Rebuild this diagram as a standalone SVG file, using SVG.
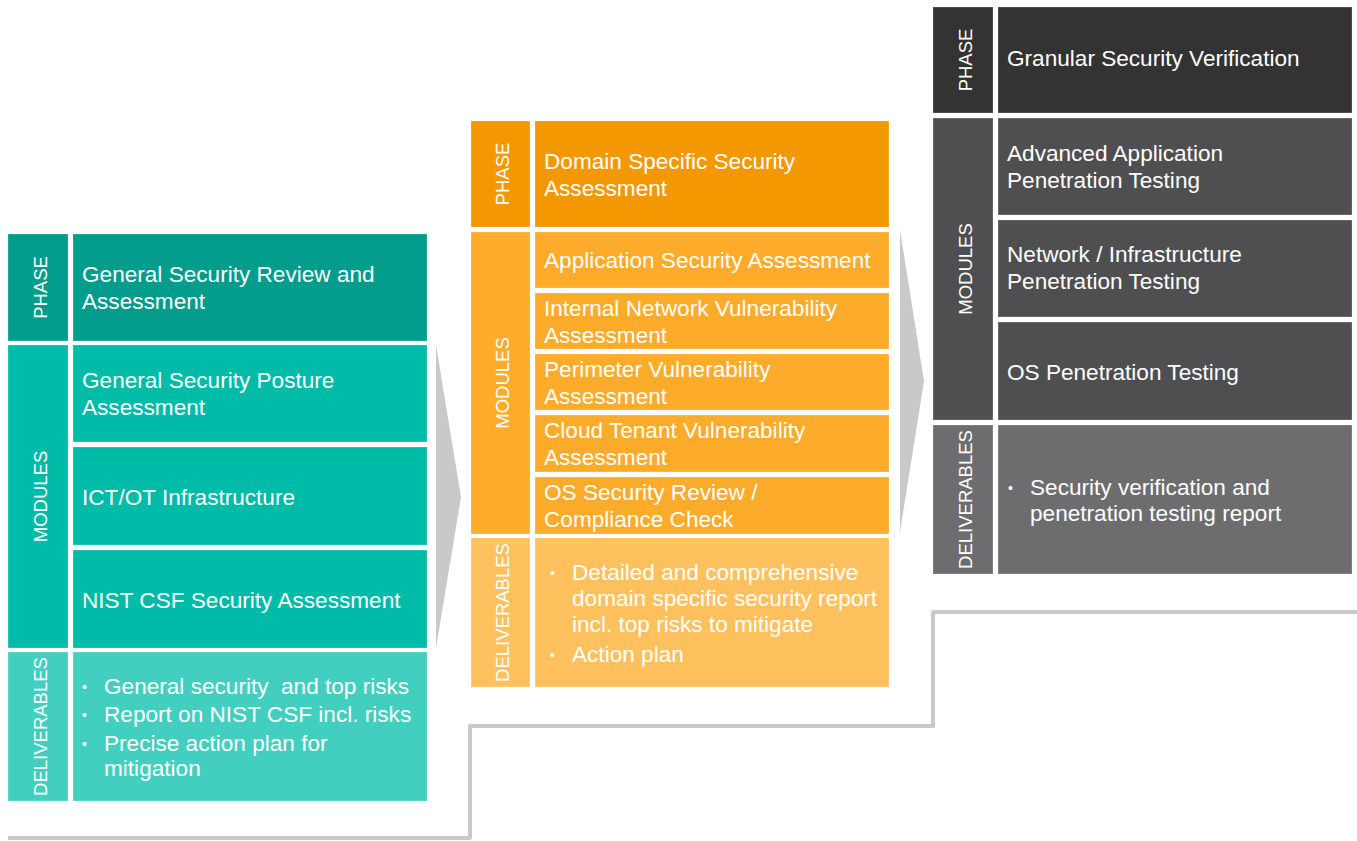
<svg xmlns="http://www.w3.org/2000/svg" width="1357" height="841" viewBox="0 0 1357 841">
<style>
rect{stroke:#ffffff;stroke-opacity:0.25;stroke-width:1}
text{font-family:"Liberation Sans",Arial,sans-serif;fill:#ffffff;white-space:pre}
.t{font-size:22.6px}
.l{font-size:18.5px}
.b{font-size:14px}
.t1a{fill:#029c8c}.t1b{fill:#00bba8}.t1c{fill:#43cfc0}
.t2a{fill:#f39800}.t2b{fill:#fdab2a}.t2c{fill:#ffc15e}
.t3a{fill:#333333}.t3b{fill:#4f4f51}.t3c{fill:#6d6d70}
</style>
<rect width="1357" height="841" fill="#ffffff" style="stroke:none"/>
<g id="connectors" fill="#c9c9c9">
<polygon points="436,345 461,497 436,648"/>
<polygon points="900,230 924,381 900,532"/>
<path d="M8,838 H470 V726 H933 V612 H1357" fill="none" stroke="#c9c9c9" stroke-width="4" stroke-linejoin="round"/>
</g>
<g id="phase1">
<rect class="t1a" x="8" y="234" width="60" height="107"/>
<text class="l" transform="translate(47,287.5) rotate(-90)" text-anchor="middle">PHASE</text>
<rect class="t1a" x="73" y="234" width="354" height="107"/>
<text class="t" x="82" y="282">General Security Review and</text>
<text class="t" x="82" y="309">Assessment</text>
</g>
<g id="modules1">
<rect class="t1b" x="8" y="345" width="60" height="303"/>
<text class="l" transform="translate(47,496.5) rotate(-90)" text-anchor="middle">MODULES</text>
<rect class="t1b" x="73" y="345" width="354" height="97"/>
<text class="t" x="82" y="388">General Security Posture</text>
<text class="t" x="82" y="415">Assessment</text>
<rect class="t1b" x="73" y="447" width="354" height="98"/>
<text class="t" x="82" y="505">ICT/OT Infrastructure</text>
<rect class="t1b" x="73" y="550" width="354" height="98"/>
<text class="t" x="82" y="608">NIST CSF Security Assessment</text>
</g>
<g id="deliverables1">
<rect class="t1c" x="8" y="652" width="60" height="149"/>
<text class="l" transform="translate(47,726.5) rotate(-90)" text-anchor="middle">DELIVERABLES</text>
<rect class="t1c" x="73" y="652" width="354" height="149"/>
<text class="b" x="82" y="692">•</text>
<text class="t" x="104" y="694" xml:space="preserve">General security  and top risks</text>
<text class="b" x="82" y="720">•</text>
<text class="t" x="104" y="722">Report on NIST CSF incl. risks</text>
<text class="b" x="82" y="749">•</text>
<text class="t" x="104" y="751">Precise action plan for</text>
<text class="t" x="104" y="776">mitigation</text>
</g>
<g id="phase2">
<rect class="t2a" x="471" y="121" width="59" height="106"/>
<text class="l" transform="translate(509,174) rotate(-90)" text-anchor="middle">PHASE</text>
<rect class="t2a" x="535" y="121" width="354" height="106"/>
<text class="t" x="544" y="169">Domain Specific Security</text>
<text class="t" x="544" y="196">Assessment</text>
</g>
<g id="modules2">
<rect class="t2b" x="471" y="232" width="59" height="302"/>
<text class="l" transform="translate(509,383) rotate(-90)" text-anchor="middle">MODULES</text>
<rect class="t2b" x="535" y="232" width="354" height="56"/>
<text class="t" x="544" y="268">Application Security Assessment</text>
<rect class="t2b" x="535" y="293" width="354" height="56"/>
<text class="t" x="544" y="316">Internal Network Vulnerability</text>
<text class="t" x="544" y="343">Assessment</text>
<rect class="t2b" x="535" y="354" width="354" height="56"/>
<text class="t" x="544" y="377">Perimeter Vulnerability</text>
<text class="t" x="544" y="404">Assessment</text>
<rect class="t2b" x="535" y="415" width="354" height="57"/>
<text class="t" x="544" y="438">Cloud Tenant Vulnerability</text>
<text class="t" x="544" y="465">Assessment</text>
<rect class="t2b" x="535" y="477" width="354" height="57"/>
<text class="t" x="544" y="500">OS Security Review /</text>
<text class="t" x="544" y="527">Compliance Check</text>
</g>
<g id="deliverables2">
<rect class="t2c" x="471" y="538" width="59" height="149"/>
<text class="l" transform="translate(509,612.5) rotate(-90)" text-anchor="middle">DELIVERABLES</text>
<rect class="t2c" x="535" y="538" width="354" height="149"/>
<text class="b" x="550" y="578">•</text>
<text class="t" x="572" y="580">Detailed and comprehensive</text>
<text class="t" x="572" y="606">domain specific security report</text>
<text class="t" x="572" y="632">incl. top risks to mitigate</text>
<text class="b" x="550" y="660">•</text>
<text class="t" x="572" y="662">Action plan</text>
</g>
<g id="phase3">
<rect class="t3a" x="933" y="7" width="60" height="106"/>
<text class="l" transform="translate(972,60) rotate(-90)" text-anchor="middle">PHASE</text>
<rect class="t3a" x="998" y="7" width="354" height="106"/>
<text class="t" x="1007" y="66">Granular Security Verification</text>
</g>
<g id="modules3">
<rect class="t3b" x="933" y="118" width="60" height="302"/>
<text class="l" transform="translate(972,269) rotate(-90)" text-anchor="middle">MODULES</text>
<rect class="t3b" x="998" y="118" width="354" height="97"/>
<text class="t" x="1007" y="161">Advanced Application</text>
<text class="t" x="1007" y="188">Penetration Testing</text>
<rect class="t3b" x="998" y="220" width="354" height="97"/>
<text class="t" x="1007" y="262">Network / Infrastructure</text>
<text class="t" x="1007" y="289">Penetration Testing</text>
<rect class="t3b" x="998" y="322" width="354" height="98"/>
<text class="t" x="1007" y="380">OS Penetration Testing</text>
</g>
<g id="deliverables3">
<rect class="t3c" x="933" y="425" width="60" height="149"/>
<text class="l" transform="translate(972,499.5) rotate(-90)" text-anchor="middle">DELIVERABLES</text>
<rect class="t3c" x="998" y="425" width="354" height="149"/>
<text class="b" x="1008" y="493">•</text>
<text class="t" x="1030" y="495">Security verification and</text>
<text class="t" x="1030" y="521">penetration testing report</text>
</g>
</svg>
